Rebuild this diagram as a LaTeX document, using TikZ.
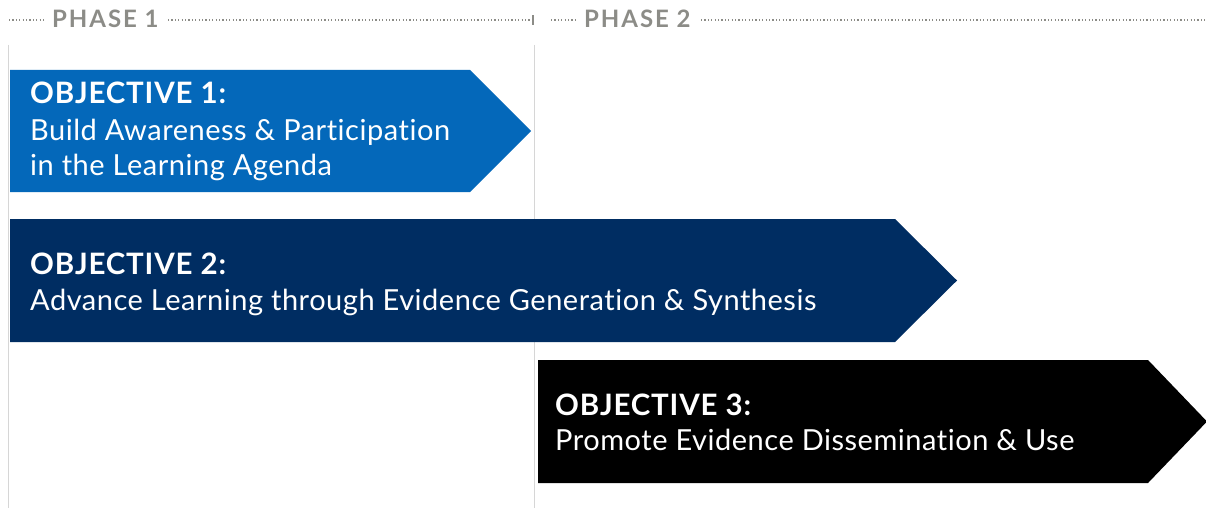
\documentclass[tikz,border=0pt]{standalone}
\usepackage{fontspec}
\setmainfont{Lato}[Ligatures=NoCommon]
\newfontfamily\phasefont{Lato}[LetterSpace=8,Ligatures=NoCommon]
\newfontfamily\headfont{Lato}[LetterSpace=2.8,Ligatures=NoCommon]
\newfontfamily\bodyfont{Lato}[LetterSpace=1.8,Ligatures=NoCommon]
\definecolor{phasegray}{HTML}{8C8C87}
\definecolor{linegray}{HTML}{D6D6D6}
\definecolor{objblue}{HTML}{0468BA}
\definecolor{objnavy}{HTML}{002D62}
\begin{document}
\begin{tikzpicture}[x=1pt,y=-1pt,
  dotline/.style={phasegray, line width=1.6pt, dash pattern=on 1.2pt off 2.2pt},
  phaselbl/.style={font=\phasefont\fontsize{24}{26}\selectfont\bfseries, text=phasegray, inner sep=0pt, anchor=base west},
  vline/.style={linegray, line width=1pt},
  headtxt/.style={font=\headfont\fontsize{29.5}{34}\selectfont\bfseries, text=white, inner sep=0pt, anchor=base west},
  bodytxt/.style={font=\bodyfont\fontsize{29}{34}\selectfont, text=white, inner sep=0pt, anchor=base west}]
\useasboundingbox (0,0) rectangle (1206,508);
% phase header
\coordinate (d1s) at (9,20);
\coordinate (d1e) at (44,20);
\node[phaselbl] (p1) at (52,28) {PHASE 1};
\coordinate (d2s) at (168,20);
\coordinate (tick) at (533,20);
\draw[dotline] (d1s) -- (d1e);
\draw[dotline] (d2s) -- (tick);
\draw[phasegray, line width=1.4pt] ([yshift=-5pt]tick) -- ([yshift=5pt]tick);
\coordinate (d3s) at (551,20);
\coordinate (d3e) at (576,20);
\node[phaselbl] (p2) at (584,28) {PHASE 2};
\coordinate (d4s) at (701,20);
\coordinate (d4e) at (1206,20);
\draw[dotline] (d3s) -- (d3e);
\draw[dotline] (d4s) -- (d4e);
% vertical lines
\coordinate (v1t) at (8,45); \coordinate (v1b) at (8,508);
\coordinate (v2t) at (534,45); \coordinate (v2b) at (534,508);
\draw[vline] (v1t) -- (v1b);
\draw[vline] (v2t) -- (v2b);
% arrows
\fill[objblue] (10,70) -- (470,70) -- (531,131) -- (470,192) -- (10,192) -- cycle;
\fill[objnavy] (10,219) -- (895,219) -- (957,280.5) -- (895,342) -- (10,342) -- cycle;
\fill[black] (538,360) -- (1148,360) -- (1207,421.5) -- (1148,483) -- (538,483) -- cycle;
% texts
\node[headtxt] (o1a) at (30,104) {OBJECTIVE 1:};
\node[bodytxt] (o1b) at (30,140) {Build Awareness \& Participation};
\node[bodytxt] (o1c) at (30,175) {in the Learning Agenda};
\node[headtxt] (o2a) at (30,274) {OBJECTIVE 2:};
\node[bodytxt] (o2b) at (30,310) {Advance Learning through Evidence Generation \& Synthesis};
\node[headtxt] (o3a) at (555,415) {OBJECTIVE 3:};
\node[bodytxt] (o3b) at (555,450) {Promote Evidence Dissemination \& Use};
\end{tikzpicture}
\end{document}
